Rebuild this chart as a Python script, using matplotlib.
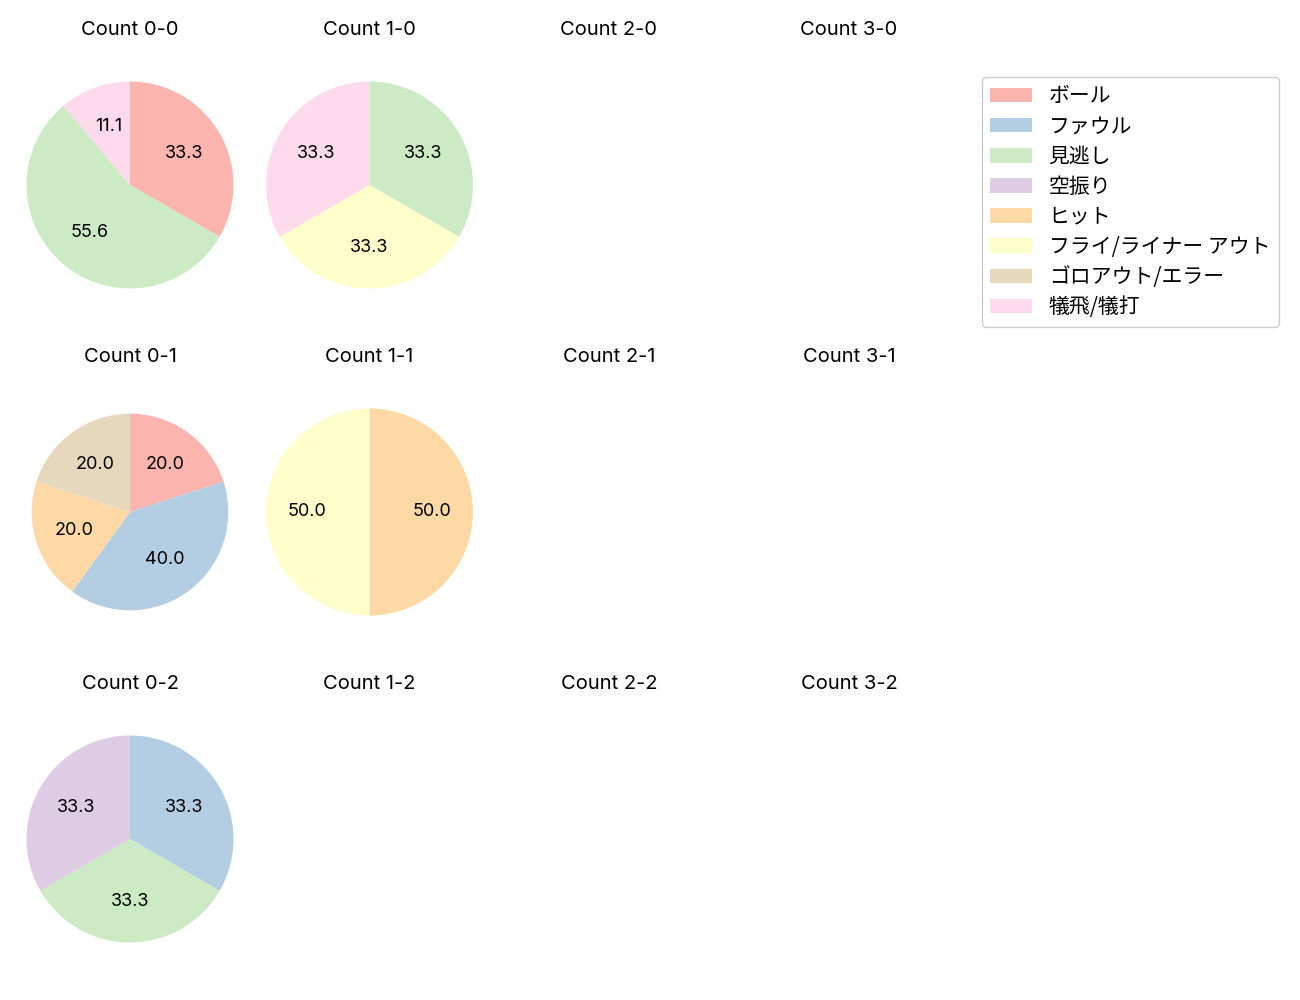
import matplotlib as mpl
mpl.use("Agg")
import matplotlib.pyplot as plt
from matplotlib.patches import Patch

plt.rcParams["font.family"] = ["Inter", "Noto Sans CJK JP", "DejaVu Sans"]

CATEGORIES = ["ボール", "ファウル", "見逃し", "空振り", "ヒット",
              "フライ/ライナー アウト", "ゴロアウト/エラー", "犠飛/犠打"]
COLORS = ["#fbb4ae", "#b3cde3", "#ccebc5", "#decbe4", "#fed9a6",
          "#ffffcc", "#e5d8bd", "#fddaec"]
BALLS = [0, 1, 2, 3]
STRIKES = [0, 1, 2]

# pitch outcome counts per (balls, strikes), in CATEGORIES order
COUNTS = {
    (0, 0): [3, 0, 5, 0, 0, 0, 0, 1],
    (1, 0): [0, 0, 1, 0, 0, 1, 0, 1],
    (0, 1): [1, 2, 0, 0, 1, 0, 1, 0],
    (1, 1): [0, 0, 0, 0, 1, 1, 0, 0],
    (0, 2): [0, 1, 1, 1, 0, 0, 0, 0],
}

W, H = 1300, 1000
PX_PER_UNIT = 103.5                 # pie radius in pixels
CX = [130, 369.5, 609, 849]
CY = [185, 512, 839]
AX_W, AX_H = 232, 284
RADIUS = {(0, 1): 0.95}

fig = plt.figure(figsize=(13, 10), dpi=100)
for si, s in enumerate(STRIKES):
    for bi, b in enumerate(BALLS):
        cx, cy = CX[bi], CY[si]
        ax = fig.add_axes([(cx - AX_W / 2) / W, 1 - (cy + AX_H / 2) / H, AX_W / W, AX_H / H])
        ax.set_title(f"Count {b}-{s}", fontsize=14.5, pad=6)
        vals = COUNTS.get((b, s))
        if vals:
            keep = [k for k, v in enumerate(vals) if v > 0]
            ax.pie([vals[k] for k in keep], colors=[COLORS[k] for k in keep],
                   startangle=90, counterclock=False, autopct="%.1f",
                   radius=RADIUS.get((b, s), 1.0), textprops={"fontsize": 13})
        ax.set_aspect("auto")
        hx, hy = AX_W / 2 / PX_PER_UNIT, AX_H / 2 / PX_PER_UNIT
        ax.set_xlim(-hx, hx); ax.set_ylim(-hy, hy)
        ax.axis("off")

handles = [Patch(facecolor=c, label=l) for c, l in zip(COLORS, CATEGORIES)]
leg = fig.legend(handles=handles, loc="upper left", bbox_to_anchor=(982 / W, 1 - 77 / H),
                 prop={"family": ["Noto Sans CJK JP", "DejaVu Sans"], "size": 15},
                 handlelength=2.0, labelspacing=0.39, borderaxespad=0,
                 framealpha=1, edgecolor="#cccccc")
fig.savefig("out.png", facecolor="white")
